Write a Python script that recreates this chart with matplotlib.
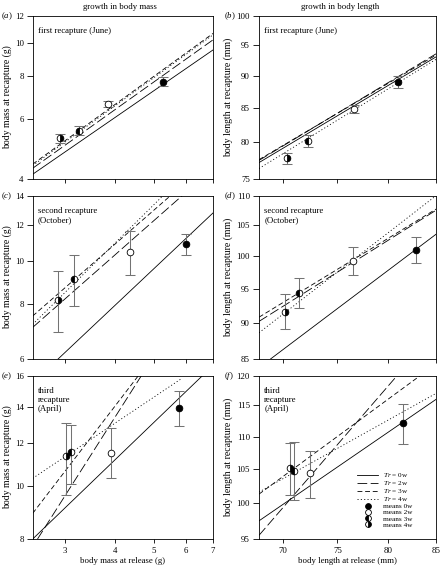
import matplotlib
matplotlib.use('Agg')
import matplotlib.pyplot as plt
from matplotlib.lines import Line2D
from matplotlib.ticker import NullLocator

plt.rcParams['font.family'] = 'Liberation Serif'
plt.rcParams['mathtext.fontset'] = 'custom'
plt.rcParams['mathtext.rm'] = 'Liberation Serif'
plt.rcParams['mathtext.it'] = 'Liberation Serif:italic'
plt.rcParams['lines.scale_dashes'] = False

# ------------------------------------------------------------
# data; group order: 0w, 2w, 3w, 4w
# ------------------------------------------------------------
groups = ['0w', '2w', '3w', '4w']

# regression lines: start (x0, y0) and end (x1, y1)
a_x0 = [2.5, 2.5, 2.5, 2.5]
a_y0 = [4.13, 4.30, 4.42, 4.38]
a_x1 = [7.0, 7.0, 7.0, 7.0]
a_y1 = [9.53, 10.2, 10.65, 10.55]
a_mx = [5.26, 3.85, 3.25, 2.92]
a_my = [7.70, 6.62, 5.52, 5.26]
a_lo = [7.47, 6.50, 5.38, 5.10]
a_hi = [7.94, 6.76, 5.70, 5.42]

b_x0 = [67.9, 67.9, 67.9, 67.9]
b_y0 = [77.2, 77.5, 77.6, 76.4]
b_x1 = [85.0, 85.0, 85.0, 85.0]
b_y1 = [93.0, 93.5, 93.3, 92.6]
b_mx = [81.0, 76.6, 72.3, 70.4]
b_my = [89.0, 84.9, 80.2, 77.8]
b_lo = [88.1, 84.2, 79.4, 77.0]
b_hi = [89.9, 85.5, 81.0, 78.5]

c_x0 = [2.89, 2.5, 2.5, 2.5]
c_y0 = [6.0, 7.07, 7.5, 7.18]
c_x1 = [7.0, 5.87, 5.49, 5.26]
c_y1 = [12.8, 14.0, 14.0, 14.0]
c_mx = [6.0, 4.36, 3.17, 2.89]
c_my = [10.9, 10.47, 9.07, 8.15]
c_lo = [10.28, 9.28, 7.90, 6.91]
c_hi = [11.48, 11.68, 10.28, 9.49]

d_x0 = [68.9, 67.9, 67.9, 67.9]
d_y0 = [85.0, 90.2, 90.8, 88.6]
d_x1 = [85.0, 85.0, 85.0, 85.0]
d_y1 = [103.5, 107.5, 107.7, 110.0]
d_mx = [82.9, 76.5, 71.4, 70.2]
d_my = [101.0, 99.2, 94.4, 91.6]
d_lo = [98.9, 97.1, 92.2, 89.1]
d_hi = [103.0, 101.4, 96.6, 94.2]

e_x0 = [2.5, 2.57, 2.5, 2.5]
e_y0 = [8.0, 8.0, 8.92, 10.35]
e_x1 = [6.59, 4.65, 4.57, 5.83]
e_y1 = [16.0, 16.0, 16.0, 15.78]
e_mx = [5.78, 3.91, 3.12, 3.02]
e_my = [13.97, 11.54, 11.57, 11.39]
e_lo = [12.9, 10.35, 10.1, 9.64]
e_hi = [15.0, 12.8, 13.0, 13.1]

f_x0 = [67.9, 67.9, 67.9, 67.9]
f_y0 = [97.5, 95.5, 101.3, 101.6]
f_x1 = [85.0, 80.9, 83.3, 85.0]
f_y1 = [116.0, 120.0, 120.0, 117.0]
f_mx = [81.5, 72.4, 71.0, 70.6]
f_my = [112.1, 104.4, 104.7, 105.1]
f_lo = [108.8, 100.8, 100.4, 101.1]
f_hi = [115.3, 107.8, 109.1, 109.0]

mass_xticks = [3, 4, 5, 6, 7]
length_xticks = [70, 75, 80, 85]
a_yticks = [4, 6, 8, 10, 12]
c_yticks = [6, 8, 10, 12, 14]
e_yticks = [8, 10, 12, 14, 16]
b_yticks = [75, 80, 85, 90, 95, 100]
d_yticks = [85, 90, 95, 100, 105, 110]
f_yticks = [95, 100, 105, 110, 115, 120]

texts = {'a': 'first recapture (June)', 'b': 'first recapture (June)',
         'c': 'second recapture\n(October)', 'd': 'second recapture\n(October)',
         'e': 'third\nrecapture\n(April)', 'f': 'third\nrecapture\n(April)'}

# styles
line_styles = ['-', (0, (7, 2.5)), (0, (3.5, 2)), (0, (0.8, 1.6))]
marker_fill = ['full', 'none', 'left', 'right']

W, H = 441, 567
fig = plt.figure(figsize=(W / 100, H / 100), dpi=100)

def px_axes(x0, x1, ytop, ybot):
    return fig.add_axes([x0 / W, 1 - ybot / H, (x1 - x0) / W, (ybot - ytop) / H])

cols = [(32.7, 213), (259, 436)]
rows = [(15.7, 179), (195.7, 359), (375.7, 539)]

panels = [
    ('a', 0, 0, a_x0, a_y0, a_x1, a_y1, a_mx, a_my, a_lo, a_hi, a_yticks),
    ('b', 0, 1, b_x0, b_y0, b_x1, b_y1, b_mx, b_my, b_lo, b_hi, b_yticks),
    ('c', 1, 0, c_x0, c_y0, c_x1, c_y1, c_mx, c_my, c_lo, c_hi, c_yticks),
    ('d', 1, 1, d_x0, d_y0, d_x1, d_y1, d_mx, d_my, d_lo, d_hi, d_yticks),
    ('e', 2, 0, e_x0, e_y0, e_x1, e_y1, e_mx, e_my, e_lo, e_hi, e_yticks),
    ('f', 2, 1, f_x0, f_y0, f_x1, f_y1, f_mx, f_my, f_lo, f_hi, f_yticks),
]

FS = 6.3
MS = 4.8

def mean_marker(i):
    if marker_fill[i] == 'none':
        return dict(mfc='white', fillstyle='full')
    return dict(mfc='black', fillstyle=marker_fill[i], markerfacecoloralt='white')

for key, r, c, x0, y0, x1, y1, mx, my, lo, hi, yt in panels:
    ax = px_axes(cols[c][0], cols[c][1], rows[r][0], rows[r][1])
    ax.set_xscale('log')
    ax.set_yscale('log')

    for i in range(4):
        ax.plot([x0[i], x1[i]], [y0[i], y1[i]], color='black', lw=0.6,
                linestyle=line_styles[i])
    for i in range(4):
        ax.errorbar(mx[i], my[i], yerr=[[my[i] - lo[i]], [hi[i] - my[i]]],
                    fmt='none', ecolor='0.45', elinewidth=0.75, capsize=3.4,
                    capthick=0.75, zorder=4)
        ax.plot(mx[i], my[i], 'o', ms=MS, mec='black', mew=0.6, zorder=5,
                **mean_marker(i))

    if c == 0:
        xt = mass_xticks
        ax.set_xlim(2.5, 7)
    else:
        xt = length_xticks
        ax.set_xlim(67.9, 85)
    ax.set_ylim(yt[0], yt[-1])
    ax.set_xticks(xt)
    ax.set_yticks(yt)
    ax.xaxis.set_minor_locator(NullLocator())
    ax.yaxis.set_minor_locator(NullLocator())
    ax.set_yticklabels([str(v) for v in yt])
    if r == 2:
        ax.set_xticklabels([str(v) for v in xt])
    else:
        ax.set_xticklabels([])
    ax.tick_params(axis='x', direction='out', length=3, width=0.6, labelsize=FS, pad=2.5)
    ax.tick_params(axis='y', direction='out', length=4.5, width=0.6, labelsize=FS, pad=2.0)
    for s in ax.spines.values():
        s.set_linewidth(0.6)

    ax.text(0.03, 0.93, texts[key], transform=ax.transAxes, fontsize=FS,
            ha='left', va='top', linespacing=1.15)

    fig.text((1 if c == 0 else 224) / W, 1 - rows[r][0] / H, '($%s$)' % key,
             fontsize=FS, ha='left', va='center')

    if key == 'f':
        handles = [Line2D([], [], color='black', lw=0.6, linestyle=line_styles[i])
                   for i in range(4)]
        handles += [Line2D([], [], marker='o', ls='none', ms=4.2, mec='black', mew=0.6,
                           **mean_marker(i))
                    for i in range(4)]
        labels = [r'$Tr$ = %s' % g for g in groups] + ['means %s' % g for g in groups]
        ax.legend(handles, labels, loc='lower left', bbox_to_anchor=(0.555, 0.07),
                  frameon=False, fontsize=5.2, handlelength=2.9, handletextpad=0.6,
                  labelspacing=0.0, borderpad=0, borderaxespad=0)

# column titles, axis labels
fig.text(120 / W, 1 - 7 / H, 'growth in body mass', fontsize=FS, ha='center', va='center')
fig.text(340 / W, 1 - 7 / H, 'growth in body length', fontsize=FS, ha='center', va='center')
for r in range(3):
    yc = 1 - (rows[r][0] + rows[r][1]) / 2 / H
    fig.text(7 / W, yc, 'body mass at recapture (g)', fontsize=7, rotation=90,
             ha='center', va='center')
    fig.text(228 / W, yc, 'body length at recapture (mm)', fontsize=7, rotation=90,
             ha='center', va='center')
fig.text(123 / W, 1 - 561 / H, 'body mass at release (g)', fontsize=FS, ha='center', va='center')
fig.text(347 / W, 1 - 561 / H, 'body length at release (mm)', fontsize=FS, ha='center', va='center')

fig.savefig('out.png', dpi=100)
